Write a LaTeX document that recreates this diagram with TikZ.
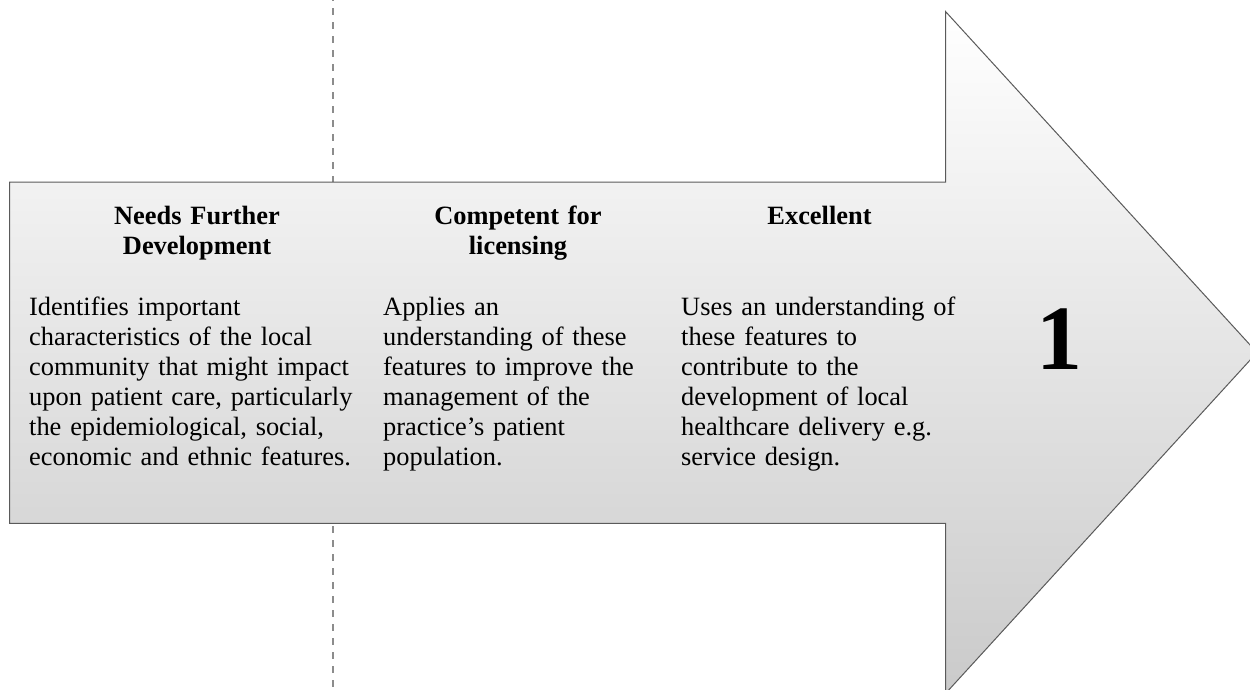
\documentclass[tikz,border=0pt]{standalone}
\usepackage{fontspec}
\setmainfont{Liberation Serif}
\definecolor{edge}{RGB}{90,90,90}
\definecolor{shadetop}{RGB}{255,255,255}
\definecolor{shadebot}{RGB}{202,202,202}
\definecolor{guide}{RGB}{140,140,140}
\begin{document}
\begin{tikzpicture}[x=1pt,y=-1pt,
  arrowshape/.style={draw=edge, line width=1pt, line join=miter,
    top color=shadetop, bottom color=shadebot},
  guideline/.style={draw=guide, line width=2pt,
    dash pattern=on 6.7pt off 7.3pt, dash phase=5.7pt},
  heading/.style={font=\fontsize{26.4}{30}\selectfont\bfseries,
    align=center, text width=#1, inner sep=0pt, anchor=base},
  bodytext/.style={font=\fontsize{26.4}{30}\selectfont,
    align=left, text width=#1, inner sep=0pt, anchor=base west},
  level/.style={font=\fontsize{92}{92}\selectfont\bfseries,
    inner sep=0pt, anchor=base}]
\useasboundingbox (0,0) rectangle (1250,690);
\clip (0,0) rectangle (1250,690);

% vertical dashed divider, mostly hidden behind the arrow
\coordinate (gtop) at (333.3,0);
\coordinate (gbot) at (333.3,690);
\draw[guideline] (gtop) -- (gbot);

% the big block arrow
\path[arrowshape] (9.5,182) -- (945.7,182) -- (945.7,11.7) -- (1257,352.5)
  -- (945.7,693.3) -- (945.7,523.3) -- (9.5,523.3) -- cycle;

% column headings
\node[heading=336pt] (h1) at (197,224) {Needs Further\\Development};
\node[heading=271pt] (h2) at (518,224) {Competent for\\licensing};
\node[heading=276pt] (h3) at (819.5,224) {Excellent};

% column descriptions
\node[bodytext=340pt] (b1) at (29,315) {Identifies important\\
characteristics of the local\\
community that might impact\\
upon patient care, particularly\\
the epidemiological, social,\\
economic and ethnic features.};
\node[bodytext=280pt] (b2) at (383,315) {Applies an\\
understanding of these\\
features to improve the\\
management of the\\
practice’s patient\\
population.};
\node[bodytext=290pt] (b3) at (681,315) {Uses an understanding of\\
these features to\\
contribute to the\\
development of local\\
healthcare delivery e.g.\\
service design.};

% level number
\node[level] (lvl) at (1059,369) {1};
\end{tikzpicture}
\end{document}
